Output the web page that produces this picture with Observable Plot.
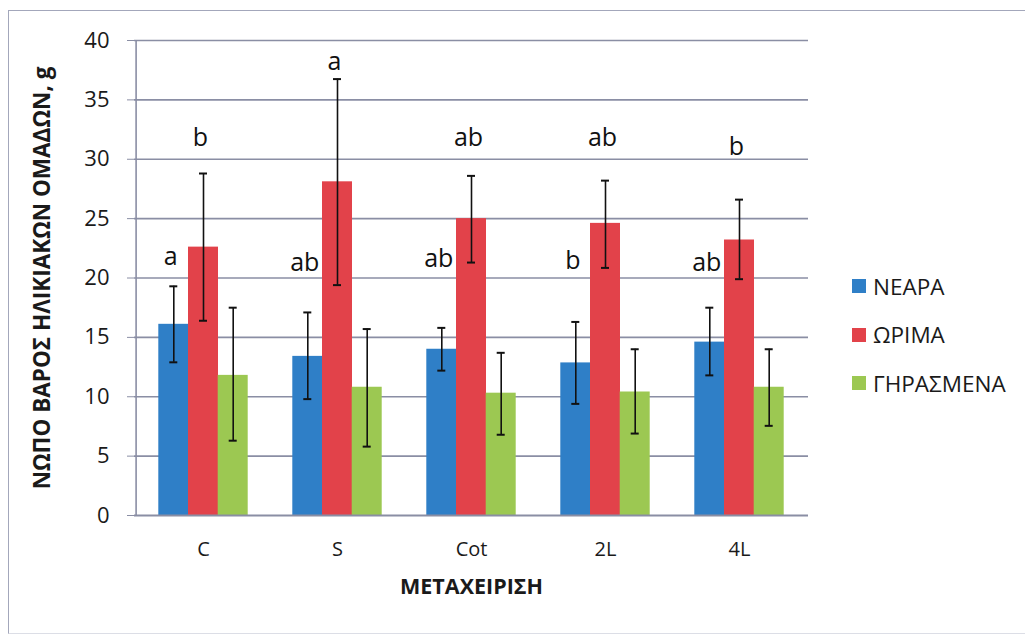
<!DOCTYPE html>
<html>
<head>
<meta charset="utf-8">
<script src="https://cdn.jsdelivr.net/npm/d3@7"></script>
<script src="https://cdn.jsdelivr.net/npm/@observablehq/plot@0.6"></script>
<style>
  body { margin: 0; background: #fff; }
  #wrap { position: relative; width: 1025px; height: 634px; overflow: hidden; font-family: "Open Sans", sans-serif; }
  #border { position: absolute; left: 8px; top: 10px; width: 1060px; height: 622px; border-left: 1.5px solid #a3a7bb; border-top: 1.5px solid #a3a7bb; border-bottom: 1.5px solid #dcdee6; pointer-events: none; }
  #legend { position: absolute; left: 852px; top: 262px; font-size: 22.5px; color: #1a1a1a; }
  #legend .row { display: flex; align-items: center; height: 48.5px; }
  #legend .sw { width: 14px; height: 14px; margin-right: 7px; }
  g[aria-label="y-axis tick label"] text { font-size: 22px; }
  g[aria-label="x-axis tick label"] text { font-size: 20px; }
  g[aria-label="y-axis label"] text { font-weight: bold; font-size: 22.5px; }
  g[aria-label="x-axis label"] text { font-weight: bold; font-size: 21.5px; }
</style>
</head>
<body>
<div id="wrap"><div id="border"></div><div id="legend"></div></div>
<script>
// ---- data ----
const categories = ["C", "S", "Cot", "2L", "4L"];
const seriesNames = ["ΝΕΑΡΑ", "ΩΡΙΜΑ", "ΓΗΡΑΣΜΕΝΑ"];
const seriesColors = ["#2f7fc7", "#e2424a", "#9cc852"];

const nearaMean = [16.1, 13.4, 14.0, 12.85, 14.6];
const nearaLow  = [12.9, 9.8, 12.2, 9.4, 11.8];
const nearaHigh = [19.3, 17.1, 15.8, 16.3, 17.5];

const orimaMean = [22.6, 28.1, 25.0, 24.6, 23.2];
const orimaLow  = [16.4, 19.4, 21.3, 20.85, 19.9];
const orimaHigh = [28.8, 36.75, 28.6, 28.2, 26.6];

const giraMean = [11.8, 10.8, 10.3, 10.4, 10.8];
const giraLow  = [6.3, 5.8, 6.8, 6.9, 7.55];
const giraHigh = [17.5, 15.7, 13.7, 14.0, 14.0];

const nearaLetters = ["a", "ab", "ab", "b", "ab"];
const nearaLetterY = [21.8, 21.3, 21.6, 21.4, 21.3];
const orimaLetters = ["b", "a", "ab", "ab", "b"];
const orimaLetterY = [31.8, 38.2, 31.8, 31.8, 31.0];

const yTicks = [0, 5, 10, 15, 20, 25, 30, 35, 40];
const yTitle = "ΝΩΠΟ ΒΑΡΟΣ ΗΛΙΚΙΑΚΩΝ ΟΜΑΔΩΝ, g";
const xTitle = "ΜΕΤΑΧΕΙΡΙΣΗ";

// ---- build table ----
const means = [nearaMean, orimaMean, giraMean];
const lows = [nearaLow, orimaLow, giraLow];
const highs = [nearaHigh, orimaHigh, giraHigh];
const table = seriesNames.map((s, j) => categories.map((c, i) => ({
  cat: c, series: s, value: means[j][i], lo: lows[j][i], hi: highs[j][i]
})));
const letterRows = [
  categories.map((c, i) => ({cat: c, text: nearaLetters[i], y: nearaLetterY[i]})),
  categories.map((c, i) => ({cat: c, text: orimaLetters[i], y: orimaLetterY[i]}))
];

const barW = 29.7;
const marks = [
  Plot.gridY(yTicks.slice(1), {stroke: "#8a8ea4", strokeOpacity: 1, strokeWidth: 1.6}),
  Plot.axisY(yTicks, {tickSize: 7, tickPadding: 18, stroke: "#8a8ea4",
    label: yTitle, labelAnchor: "center", labelOffset: 100, labelArrow: "none"}),
  Plot.axisX({tickSize: 0, tickPadding: 26,
    label: xTitle, labelAnchor: "center", labelOffset: 78, labelArrow: "none"})
];
seriesNames.forEach((s, j) => {
  const dx = (j - 1) * barW;
  marks.push(Plot.barY(table[j], {x: "cat", y: "value", fill: seriesColors[j], dx}));
});
seriesNames.forEach((s, j) => {
  const dx = (j - 1) * barW;
  marks.push(Plot.ruleX(table[j], {x: "cat", y1: "lo", y2: "hi", stroke: "#111", strokeWidth: 1.6, dx}));
  marks.push(Plot.tickY(table[j], {x: "cat", y: "lo", stroke: "#111", strokeWidth: 2, insetLeft: 11, insetRight: 11, dx}));
  marks.push(Plot.tickY(table[j], {x: "cat", y: "hi", stroke: "#111", strokeWidth: 2, insetLeft: 11, insetRight: 11, dx}));
});
letterRows.forEach((rows, j) => {
  const dx = (j - 1) * barW - 3;
  marks.push(Plot.text(rows, {x: "cat", y: "y", text: "text", fontSize: 25, fill: "#111", dx}));
});
// axis lines
marks.push(Plot.ruleY([0], {stroke: "#8a8ea4", strokeWidth: 1.8}));
marks.push(Plot.ruleX([categories[0]], {y1: 0, y2: 40, stroke: "#8a8ea4", strokeWidth: 1.6, dx: -67.4}));

const chart = Plot.plot({
  width: 1025,
  height: 634,
  marginLeft: 134,
  marginRight: 217,
  marginTop: 40,
  marginBottom: 119,
  style: {fontFamily: "Open Sans, sans-serif", fontSize: "20px", color: "#1a1a1a", background: "transparent", overflow: "visible"},
  x: {domain: categories, paddingInner: 0.7797, paddingOuter: 0.39, label: null},
  y: {domain: [0, 40], label: null},
  marks
});
chart.style.position = "absolute";
chart.style.left = "0";
chart.style.top = "0";
document.getElementById("wrap").appendChild(chart);

const legend = document.getElementById("legend");
seriesNames.forEach((s, j) => {
  const row = document.createElement("div");
  row.className = "row";
  const sw = document.createElement("div");
  sw.className = "sw";
  sw.style.background = seriesColors[j];
  const t = document.createElement("span");
  t.textContent = s;
  row.appendChild(sw);
  row.appendChild(t);
  legend.appendChild(row);
});
</script>
</body>
</html>
